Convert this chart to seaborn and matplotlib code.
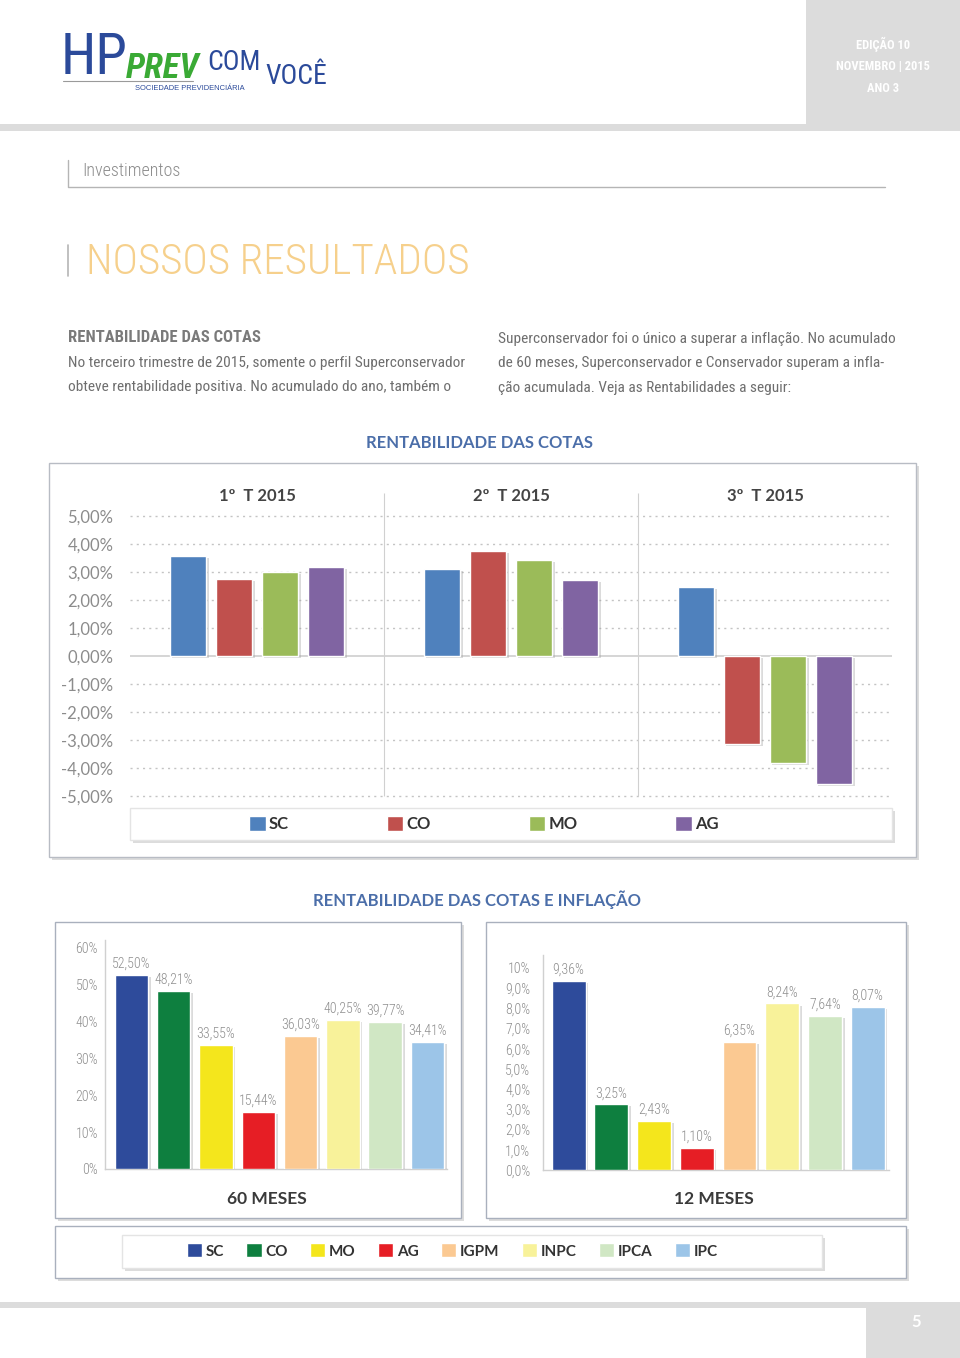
import matplotlib
matplotlib.use('Agg')
import matplotlib.pyplot as plt
import matplotlib.patheffects as pe
from matplotlib import font_manager
from matplotlib.patches import Rectangle, Patch
from matplotlib.lines import Line2D
import seaborn as sns
import pandas as pd
import numpy as np

# ---- dados ----
quarters = ['1º  T 2015', '2º  T 2015', '3º  T 2015']
profiles = ['SC', 'CO', 'MO', 'AG']
sc_tri = [3.56, 3.10, 2.48]
co_tri = [2.74, 3.76, -3.14]
mo_tri = [2.99, 3.42, -3.82]
ag_tri = [3.17, 2.71, -4.58]
tri_colors = ['#4f81bd', '#c0504d', '#9bbb59', '#8064a2']

indices = ['SC', 'CO', 'MO', 'AG', 'IGPM', 'INPC', 'IPCA', 'IPC']
meses60 = [52.50, 48.21, 33.55, 15.44, 36.03, 40.25, 39.77, 34.41]
meses12 = [9.36, 3.25, 2.43, 1.10, 6.35, 8.24, 7.64, 8.07]
idx_colors = ['#2e4b9b', '#0e7f3f', '#f4e61c', '#e61e25',
              '#fbc992', '#f8f29a', '#d0e7c4', '#9cc5e8']

W, H = 960, 1358


def pick(names):
  for n in names:
    try:
      font_manager.findfont(font_manager.FontProperties(family=n), fallback_to_default=False)
      return n
    except ValueError:
      pass
  return 'DejaVu Sans'


narrow = pick(['Roboto Condensed', 'Liberation Sans Narrow', 'Lato'])
chartf = pick(['Lato', 'Open Sans', 'DejaVu Sans'])
plain = pick(['Liberation Sans', 'DejaVu Sans'])

sns.set_style('white')
plt.rcParams['font.family'] = [chartf, 'DejaVu Sans']

fig = plt.figure(figsize=(9.6, 13.58), dpi=100)


def fx(x):
  return x / W


def fy(y):
  return 1 - y / H


def box(x0, y0, x1, y1, fc='white', ec='#b4b4b4', lw=1.0, shadow=True, z=-2):
  if shadow:
    fig.patches.append(Rectangle((fx(x0 + 3), fy(y1 + 3)), (x1 - x0) / W, (y1 - y0) / H,
                                 transform=fig.transFigure, fc='#dcdcdc', ec='none', zorder=z - 1))
  fig.patches.append(Rectangle((fx(x0), fy(y1)), (x1 - x0) / W, (y1 - y0) / H,
                               transform=fig.transFigure, fc=fc, ec=ec, lw=lw, zorder=z))


def line(xs, ys, color='#b5b5b5', lw=1.0):
  fig.add_artist(Line2D([fx(x) for x in xs], [fy(y) for y in ys], color=color, lw=lw,
                        transform=fig.transFigure))


def axes_px(x0, y0, x1, y1):
  ax = fig.add_axes([fx(x0), fy(y1), (x1 - x0) / W, (y1 - y0) / H])
  ax.set_facecolor('none')
  return ax


def pct(v, nd):
  return f'{v:.{nd}f}'.replace('.', ',') + '%'


shadow = [pe.SimplePatchShadow(offset=(2, -1.5), shadow_rgbFace='#999999', alpha=0.35), pe.Normal()]

# ---- cabeçalho ----
box(806, 0, 960, 124, fc='#dcdcdc', ec='none', shadow=False)
fig.patches.append(Rectangle((0, fy(131)), 1, 7 / H, transform=fig.transFigure,
                             fc='#dcdcdc', ec='none', zorder=-2))
for t, y in [('EDIÇÃO 10', 44), ('NOVEMBRO | 2015', 66), ('ANO 3', 88)]:
  fig.text(fx(883), fy(y), t, ha='center', va='center', color='white', fontsize=9,
           family=narrow, weight='bold')

fig.text(fx(61), fy(58), 'HP', ha='left', va='center', color='#2b4a9a', fontsize=41, family=narrow)
fig.text(fx(126), fy(69), 'PREV', ha='left', va='center', color='#3aaa35', fontsize=25,
         family=narrow, style='italic', weight='bold')
fig.text(fx(207), fy(63), 'COM', ha='left', va='center', color='#2b4a9a', fontsize=20, family=narrow)
fig.text(fx(265), fy(76), 'VOCÊ', ha='left', va='center', color='#2b4a9a', fontsize=20, family=narrow)
line([63, 193], [81, 81], color='#9a9a9a', lw=0.8)
fig.text(fx(135), fy(89), 'SOCIEDADE PREVIDENCIÁRIA', ha='left', va='center', color='#2b4a9a',
         fontsize=5.4, family=plain)

# ---- seção ----
line([68, 68, 885], [160, 187, 187])
fig.text(fx(82), fy(171), 'Investimentos', ha='left', va='center', color='#8c8c8c', fontsize=13,
         family=narrow, weight='light')
line([68, 68], [245, 276], lw=1.2)
fig.text(fx(86), fy(262), 'NOSSOS RESULTADOS', ha='left', va='center', color='#f6d08c', fontsize=31,
         family=narrow, weight='light')

fig.text(fx(68), fy(338), 'RENTABILIDADE DAS COTAS', ha='left', va='center', color='#7a7a7a',
         fontsize=12, family=narrow, weight='bold')
left_txt = ['No terceiro trimestre de 2015, somente o perfil Superconservador',
            'obteve rentabilidade positiva. No acumulado do ano, também o']
right_txt = ['Superconservador foi o único a superar a inflação. No acumulado',
             'de 60 meses, Superconservador e Conservador superam a infla-',
             'ção acumulada. Veja as Rentabilidades a seguir:']
for i, t in enumerate(left_txt):
  fig.text(fx(68), fy(363 + 24.5 * i), t, ha='left', va='center', color='#6e6e6e', fontsize=11.1,
           family=narrow)
for i, t in enumerate(right_txt):
  fig.text(fx(498), fy(339 + 24.5 * i), t, ha='left', va='center', color='#6e6e6e', fontsize=11.1,
           family=narrow)

# ---- gráfico trimestral ----
fig.text(fx(480), fy(443), 'RENTABILIDADE DAS COTAS', ha='center', va='center', color='#4b6ea9',
         fontsize=12, weight='bold')
box(49, 463, 916, 857, ec='#b8bcc4')
box(130, 808, 892, 840, ec='#e4e4e4', z=-1)

rows = []
for i, q in enumerate(quarters):
  for p, serie in zip(profiles, [sc_tri, co_tri, mo_tri, ag_tri]):
    rows.append((q, p, serie[i]))
tri = pd.DataFrame(rows, columns=['quarter', 'profile', 'value'])

ax1 = axes_px(130, 486, 892, 800)
sns.barplot(data=tri, x='quarter', y='value', hue='profile', hue_order=profiles,
            palette=tri_colors, saturation=1, width=0.725, gap=0.2, legend=False,
            ax=ax1, zorder=3)
for b in ax1.patches:
  b.set_path_effects(shadow)
ax1.set_xlim(-0.5, 2.5)
ax1.set_ylim(-5.14, 6.07)
ax1.set_yticks(range(-5, 6))
ax1.set_yticklabels([pct(v, 2) for v in range(-5, 6)])
for v in range(-5, 6):
  if v:
    ax1.axhline(v, color='#c4c4c4', lw=1, ls=(0, (1.5, 3)), zorder=1)
ax1.axhline(0, color='#d2d2d2', lw=1.3, zorder=2)
ax1.vlines([0.5, 1.5], -5, 5.82, color='#d0d0d0', lw=0.8, zorder=1)
for i, q in enumerate(quarters):
  ax1.text(i, 5.72, q, ha='center', va='center', fontsize=12, weight='bold', color='#444444')
ax1.set_xticks([])
ax1.set_xlabel('')
ax1.set_ylabel('')
ax1.tick_params(axis='y', length=0, pad=12, labelsize=12, labelcolor='#8c8c8c')
sns.despine(ax=ax1, left=True, bottom=True)

fig.legend(handles=[Patch(fc=c, label=p) for p, c in zip(profiles, tri_colors)],
           loc='center left', bbox_to_anchor=(fx(234), fy(824)), ncol=4, frameon=False,
           fontsize=12, handlelength=1.0, handleheight=1.0, handletextpad=0.2,
           columnspacing=5.85, labelcolor='#333333', prop={'weight': 'bold', 'size': 12})

# ---- gráficos 60 e 12 meses ----
fig.text(fx(477), fy(900), 'RENTABILIDADE DAS COTAS E INFLAÇÃO', ha='center', va='center',
         color='#4b6ea9', fontsize=12, weight='bold')
box(55, 922, 461, 1218, ec='#a9b0bd')
box(486, 922, 906, 1218, ec='#a9b0bd')
box(55, 1226, 906, 1278, ec='#a9b0bd')
box(122, 1235, 822, 1268, ec='#e4e4e4', z=-1)


def index_chart(ax, values, ylim, xlim, ticks, ticklabels, pad):
  sns.barplot(x=indices, y=values, hue=indices, palette=idx_colors, saturation=1, width=0.79,
              dodge=False, legend=False, ax=ax, zorder=3)
  for b in ax.patches:
    b.set_path_effects(shadow)
  for c, v in zip(ax.containers, values):
    ax.bar_label(c, labels=[pct(v, 2)], padding=3, fontsize=10, color='#8e8e8e',
                 family=narrow, weight='light')
  ax.set_ylim(*ylim)
  ax.set_xlim(*xlim)
  ax.set_yticks(ticks)
  ax.set_yticklabels(ticklabels, family=narrow, weight='light')
  ax.set_xticks([])
  ax.tick_params(axis='y', length=0, pad=pad, labelsize=10, labelcolor='#8e8e8e')
  sns.despine(ax=ax, top=True, right=True)
  for s in ['left', 'bottom']:
    ax.spines[s].set_color('#d0d0d0')
    ax.spines[s].set_linewidth(1)


ax2 = axes_px(105, 940, 447, 1169)
index_chart(ax2, meses60, (0, 61.9), (-0.62, 7.46), range(0, 70, 10),
            [f'{v}%' for v in range(0, 70, 10)], 5)
fig.text(fx(267), fy(1199), '60 MESES', ha='center', va='center', color='#3a3a3a', fontsize=12.5,
         weight='bold')

ax3 = axes_px(543, 955, 889, 1170)
index_chart(ax3, meses12, (0, 10.64), (-0.6, 7.5), range(0, 11),
            [pct(v, 1) for v in range(0, 10)] + ['10%'], 9)
fig.text(fx(714), fy(1199), '12 MESES', ha='center', va='center', color='#3a3a3a', fontsize=12.5,
         weight='bold')

fig.legend(handles=[Patch(fc=c, label=p) for p, c in zip(indices, idx_colors)],
           loc='center left', bbox_to_anchor=(fx(173), fy(1251)), ncol=8, frameon=False,
           handlelength=1.0, handleheight=1.0, handletextpad=0.25, columnspacing=1.45,
           labelcolor='#333333', prop={'weight': 'bold', 'size': 11})

# ---- rodapé ----
fig.patches.append(Rectangle((0, fy(1308)), 1, 6 / H, transform=fig.transFigure,
                             fc='#dcdcdc', ec='none', zorder=-2))
box(866, 1308, 960, 1358, fc='#dcdcdc', ec='none', shadow=False)
fig.text(fx(916), fy(1322), '5', ha='center', va='center', color='white', fontsize=12, weight='bold')

fig.savefig('out.png', dpi=100)
